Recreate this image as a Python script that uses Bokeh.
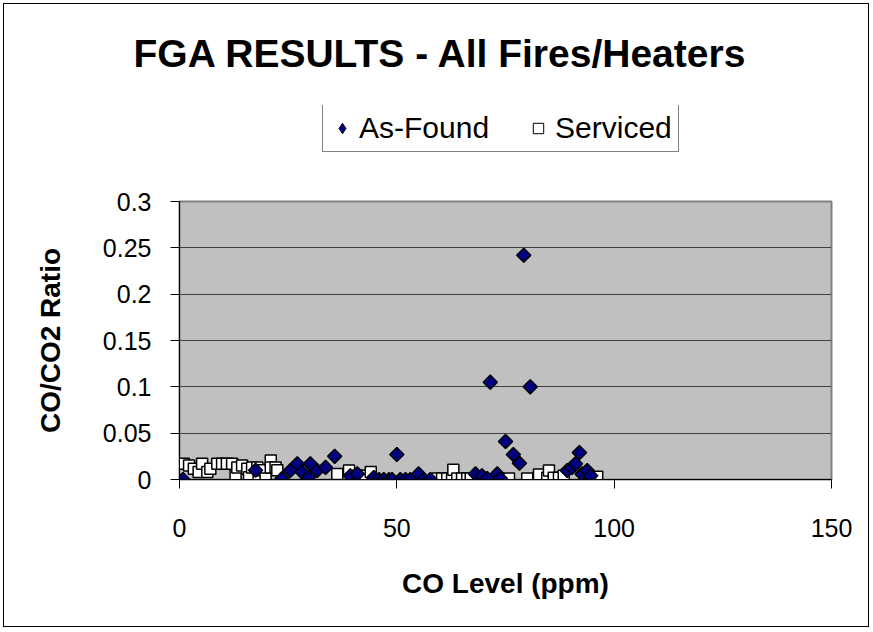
from bokeh.plotting import figure
from bokeh.layouts import column
from bokeh.models import (Range1d, FixedTicker, CustomJSTickFormatter, Legend, LegendItem,
                          Title, ColumnDataSource)
from bokeh.embed import file_html
from bokeh.resources import INLINE
import math

# ---------------- data ----------------
asfound_x = [0.8, 17.5, 23.6, 25.5, 27.1, 28.2, 29.7, 30.1, 31.7, 33.6, 35.7, 39.3, 40.9,
             44.7, 45.9, 47.0, 48.2, 48.9, 50.0, 50.8, 52.0, 53.1, 55.0, 56.2, 57.7,
             68.1, 69.6, 70.8, 71.5, 73.1, 73.8, 75.0, 76.8, 78.2, 79.2, 80.7,
             89.2, 90.3, 91.1, 92.0, 92.6, 93.8, 94.6]
asfound_y = [0.0, 0.010, 0.001, 0.0097, 0.017, 0.008, 0.0025, 0.017, 0.0097, 0.013, 0.025, 0.004, 0.006,
             0.002, 0.0, 0.0, 0.0, 0.0, 0.027, 0.0, 0.0, 0.0, 0.006, 0.0, 0.0,
             0.006, 0.004, 0.001, 0.105, 0.006, 0.001, 0.041, 0.027, 0.0176, 0.242, 0.100,
             0.0097, 0.013, 0.017, 0.029, 0.006, 0.0097, 0.004]

serviced_x = [1.0, 2.2, 3.3, 4.4, 5.2, 6.4, 7.1, 8.7, 9.8, 10.9, 12.1, 12.9, 13.3, 14.4, 15.6,
              16.0, 16.7, 17.9, 18.2, 19.0, 19.8, 21.0, 21.0, 22.1, 22.5,
              36.3, 39.0, 40.9, 42.4, 42.8, 44.0,
              59.3, 60.4, 61.6, 62.7, 63.0, 63.9, 65.0, 66.2, 67.0,
              75.8, 80.0, 82.7, 84.6, 85.0, 86.1, 87.3, 88.4, 96.1]
serviced_y = [0.017, 0.015, 0.0115, 0.008, 0.017, 0.008, 0.0115, 0.017, 0.017, 0.017, 0.017, 0.004, 0.013, 0.015, 0.0115,
              0.0025, 0.013, 0.013, 0.001, 0.010, 0.001, 0.0205, 0.013, 0.013, 0.010,
              0.006, 0.0097, 0.004, 0.004, 0.0, 0.008,
              0.001, 0.001, 0.001, 0.001, 0.0105, 0.001, 0.001, 0.001, 0.001,
              0.001, 0.001, 0.0055, 0.002, 0.0097, 0.002, 0.002, 0.004, 0.003]

x_ticks = [0, 50, 100, 150]
y_ticks = [0, 0.05, 0.1, 0.15, 0.2, 0.25, 0.3]

title_text = "FGA RESULTS - All Fires/Heaters"
x_title = "CO Level (ppm)"
y_title = "CO/CO2 Ratio"
series_names = ["As-Found", "Serviced"]

FONT = "Liberation Sans"
NAVY = "#000080"

FL, FW, FH = 179, 652, 278      # main frame left border and size
BR, BT, BB = 41, 15, 151
HF = 81                          # header frame height

# ---------------- header (title + legend) ----------------
head = figure(frame_width=FW, frame_height=HF, output_backend="svg", toolbar_location=None,
              x_range=Range1d(0, 1), y_range=Range1d(0, 1),
              x_axis_type=None, y_axis_type=None,
              min_border_left=FL, min_border_right=BR, min_border_top=0, min_border_bottom=0)
head.title = None
head.grid.visible = False
head.outline_line_color = None
head.background_fill_color = None
head.border_fill_color = None

head.add_layout(Title(text=title_text, text_font=FONT, text_font_size="39px",
                      text_font_style="bold", align="left", offset=-46,
                      vertical_align="middle", text_color="black", standoff=60), "above")

# legend glyphs (outside the visible range of the header)
lg_a = head.scatter([-5], [-5], marker="diamond", size=10,
                    fill_color=NAVY, line_color="black", line_width=1)
lg_s = head.scatter([-5], [-5], marker="square", size=8,
                    fill_color="white", line_color="black", line_width=1)

legend = Legend(items=[LegendItem(label=series_names[0], renderers=[lg_a]),
                       LegendItem(label=series_names[1], renderers=[lg_s])],
                orientation="horizontal", location=(322 - FL, 34),
                label_text_font=FONT, label_text_font_size="30px",
                label_text_color="black",
                glyph_width=26, glyph_height=26, label_standoff=4, spacing=36,
                padding=6, margin=0,
                border_line_color="black", border_line_width=1,
                background_fill_color="white", background_fill_alpha=1)
head.add_layout(legend, "center")

# ---------------- main plot ----------------
p = figure(frame_width=FW, frame_height=FH, output_backend="svg", toolbar_location=None,
           x_range=Range1d(0, 150), y_range=Range1d(0, 0.3),
           min_border_left=FL, min_border_right=BR,
           min_border_top=BT, min_border_bottom=BB)
p.title = None

p.background_fill_color = "#C0C0C0"
p.border_fill_color = None
p.outline_line_color = "#808080"
p.outline_line_width = 2

p.xgrid.visible = False
p.ygrid.grid_line_color = "#404040"
p.ygrid.grid_line_width = 1
p.ygrid.ticker = FixedTicker(ticks=y_ticks)

fmt = CustomJSTickFormatter(code="return parseFloat(tick.toFixed(3)).toString();")

for ax in (p.xaxis[0], p.yaxis[0]):
    ax.axis_line_color = "black"
    ax.axis_line_width = 1
    ax.major_tick_line_color = "black"
    ax.major_tick_out = 9
    ax.major_tick_in = 0
    ax.minor_tick_out = 0
    ax.minor_tick_in = 0
    ax.major_label_text_font = FONT
    ax.major_label_text_font_size = "25px"
    ax.major_label_text_color = "black"
    ax.axis_label_text_font = FONT
    ax.axis_label_text_font_size = "28px"
    ax.axis_label_text_font_style = "bold"
    ax.axis_label_text_color = "black"
    ax.formatter = fmt

p.xaxis.ticker = FixedTicker(ticks=x_ticks)
p.yaxis.ticker = FixedTicker(ticks=y_ticks)
p.xaxis.axis_label = x_title
p.yaxis.axis_label = y_title
p.xaxis.major_label_standoff = 30
p.yaxis.major_label_standoff = 19
p.xaxis.axis_label_standoff = 28
p.yaxis.axis_label_standoff = 34

src_a = ColumnDataSource(dict(x=asfound_x, y=asfound_y))
src_s = ColumnDataSource(dict(x=serviced_x, y=serviced_y))

r_s = p.scatter("x", "y", source=src_s, marker="square", size=11,
                fill_color="white", line_color="black", line_width=1.5)
r_a = p.scatter("x", "y", source=src_a, marker="square", angle=math.pi / 4, size=10,
                fill_color=NAVY, line_color="black", line_width=1.5)

page = column(head, p, spacing=0, width=872, height=630,
              styles={"outline": "1px solid black", "outline-offset": "-4px",
                      "background-color": "white"})

open("out.html", "w").write(file_html(page, INLINE))
